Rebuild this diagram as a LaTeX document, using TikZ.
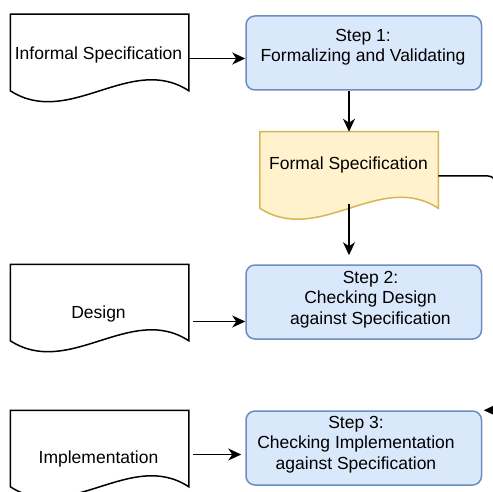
\documentclass[tikz,border=0pt]{standalone}
\usepackage{fontspec}
\setmainfont{Liberation Sans}
\usepackage{tikz}
\usetikzlibrary{arrows.meta}
\usepackage{color}
\definecolor{stepfill}{HTML}{DAE8FC}
\definecolor{stepline}{HTML}{6C8EBF}
\definecolor{specfill}{HTML}{FFF2CC}
\definecolor{specline}{HTML}{D6B656}
\newcommand{\docoutline}[2]{\draw[#2] (#1.north west) -- (#1.north east) -- ([yshift=12pt]#1.south east) .. controls ([xshift=-58pt,yshift=50pt]#1.south east) and ([xshift=59pt,yshift=-26pt]#1.south west) .. ([yshift=12pt]#1.south west) -- cycle;}

\begin{document}
\begin{tikzpicture}[x=1pt,y=-1pt,line width=1.5pt,>={Stealth[length=13pt,width=12pt,inset=4pt]}]
\tikzset{every node/.style={font=\fontsize{17.5}{20.5}\selectfont,inner sep=0pt},
doc/.style={minimum width=177pt,minimum height=87pt},
stepbox/.style={draw=stepline,fill=stepfill,rounded corners=9pt,minimum width=235.5pt,minimum height=74pt},
steptext/.style={align=center,anchor=north}}
\clip (0,0) rectangle (493,492);
\fill[white] (0,0) rectangle (493,492);

\node[doc] (informal) at (99.5,58.5) {};
\node[doc] (fs) at (349,176) {};
\node[doc] (design) at (99.5,308.5) {};
\node[doc] (impl) at (99.5,454.5) {};
\docoutline{informal}{draw=black,fill=white}
\docoutline{fs}{draw=specline,fill=specfill}
\docoutline{design}{draw=black,fill=white}
\docoutline{impl}{draw=black,fill=white}
\node[anchor=base] (informal-t) at (98.5,60) {Informal Specification};
\node[anchor=base] (fs-t) at (348.5,170) {Formal Specification};
\node[anchor=base] (design-t) at (98.5,318) {Design};
\node[anchor=base] (impl-t) at (98.5,463) {Implementation};

\node[stepbox] (step1) at (363.75,53) {};
\node[stepbox] (step2) at (363.75,302) {};
\node[stepbox] (step3) at (363.75,448) {};
\node[steptext] (step1-t) at (363,28.5) {Step 1:\\Formalizing and Validating};
\node[steptext] (step2-t) at (370.5,270.5) {Step 2:\\Checking Design\\against Specification};
\node[steptext] (step3-t) at (356,415.5) {Step 3:\\Checking Implementation\\against Specification};

\draw[->] (informal.east) -- (informal.east -| step1.west);
\draw[->] (step1.south -| fs.north) -- (fs.north);
\draw[->,shorten >=9pt] ([yshift=16pt]fs.south) -- (fs.south |- step2.north);
\draw[->] ([shift={(4,13)}]design.east) -- ([yshift=-13pt]design.east -| step2.west);
\draw[->,shorten >=4pt] ([xshift=4pt]impl.east) -- (impl.east -| step3.west);
\coordinate (loop) at (496,300);
\draw[->,rounded corners=8pt,shorten >=1.5pt] (fs.east) -| (loop) |- (step3.north east);
\end{tikzpicture}
\end{document}
